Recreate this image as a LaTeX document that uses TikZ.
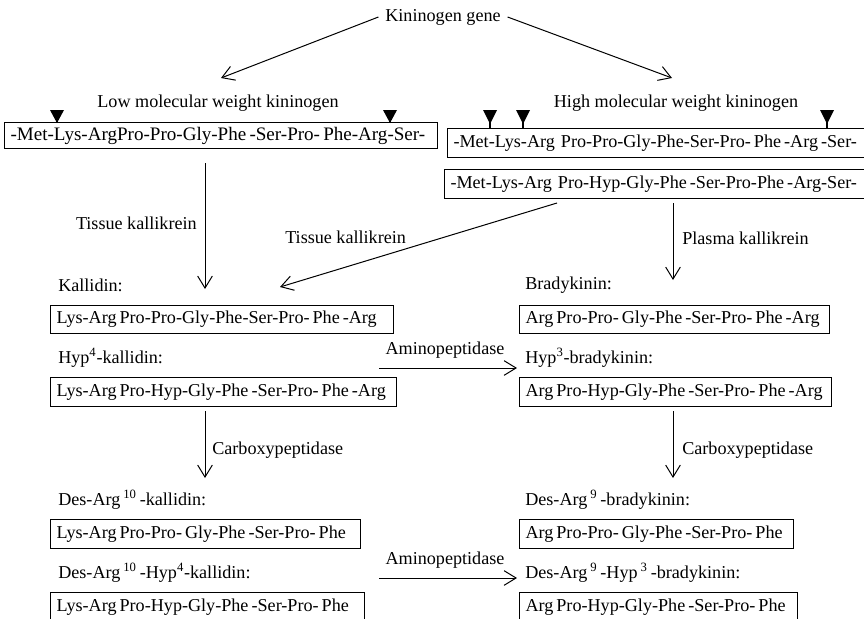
\documentclass[tikz,border=0pt]{standalone}
\usepackage{fontspec}
\setmainfont{Liberation Serif}
\usetikzlibrary{arrows.meta}
\begin{document}
\begin{tikzpicture}[x=0.75pt,y=-0.75pt,
  font=\fontsize{13.6pt}{16pt}\selectfont,
  lbl/.style={anchor=west, inner sep=0pt},
  ctr/.style={inner sep=0pt},
  seq/.style={draw, line width=0.75pt, anchor=north west, inner xsep=4.5pt, inner ysep=0pt, text width=#1, align=left},
  arr/.style={line width=0.75pt, -{Straight Barb[length=9pt,width=11pt,line width=0.75pt]}}
]
\clip (0,0) rectangle (864,618);

% top
\node[ctr, inner xsep=5pt] (gene) at (443,17) {Kininogen gene};
\node[ctr] (lmwt) at (218,103) {Low molecular weight kininogen};
\node[ctr] (hmwt) at (676,103) {High molecular weight kininogen};
\coordinate (ga) at (221,78);
\coordinate (gb) at (672,78);
\draw[arr] (gene.west) -- (ga);
\draw[arr] (gene.east) -- (gb);

% precursor boxes
\node[seq=315.75pt, minimum height=19.5pt, font=\fontsize{14.3pt}{16pt}\selectfont] (lmw) at (4,122) {\mbox{-Met-Lys-ArgPro-Pro-Gly-Phe\,-Ser-Pro-\,Phe-Arg-Ser-}};
\node[seq=304.5pt, minimum height=21.75pt] (hmw1) at (447,128) {\mbox{-Met-Lys-Arg Pro-Pro-Gly-Phe-Ser-Pro-\,Phe\,-Arg\,-Ser-}};
\node[seq=306.75pt, minimum height=21.75pt] (hmw2) at (444,169) {\mbox{-Met-Lys-Arg Pro-Hyp-Gly-Phe\,-Ser-Pro-Phe\,-Arg-Ser-}};

% cleavage markers
\foreach \xx in {57,390}{
  \fill (\xx-7,110) -- (\xx+7,110) -- (\xx,123) -- cycle;
  \draw[line width=1.5pt] (\xx,118) -- (\xx,122);
}
\foreach \xx in {490,523,827}{
  \fill (\xx-7,110) -- (\xx+7,110) -- (\xx,124) -- cycle;
  \draw[line width=1.5pt] (\xx,118) -- (\xx,128);
}

% kallikrein arrows
\coordinate (v1a) at (205,163);
\coordinate (v1b) at (205,289);
\coordinate (d1a) at (557,203);
\coordinate (d1b) at (280,287);
\coordinate (v2a) at (673,203);
\coordinate (v2b) at (673,280);
\draw[arr] (v1a) -- (v1b);
\draw[arr] (d1a) -- (d1b);
\draw[arr] (v2a) -- (v2b);
\node[ctr, anchor=east] (tk1) at (197,223) {Tissue kallikrein};
\node[lbl] (tk2) at (285,237) {Tissue kallikrein};
\node[lbl] (pk) at (682,238) {Plasma kallikrein};

% kinins
\node[lbl] (kal) at (58,285) {Kallidin:};
\node[seq=248.25pt, minimum height=21pt] (k1) at (50,305) {\mbox{Lys-Arg\,Pro-Pro-Gly-Phe-Ser-Pro-\,Phe\,-Arg}};
\node[lbl] (hkal) at (58,358) {Hyp\textsuperscript{4}-kallidin:};
\node[seq=250.5pt, minimum height=21.75pt] (k2) at (50,377) {\mbox{Lys-Arg\,Pro-Hyp-Gly-Phe\,-Ser-Pro-\,Phe\,-Arg}};

\node[lbl] (bk) at (525,285) {Bradykinin:};
\node[seq=223.5pt, minimum height=21pt] (b1) at (519,305) {\mbox{Arg\,Pro-Pro-\,Gly-Phe\,-Ser-Pro-\,Phe\,-Arg}};
\node[lbl] (hbk) at (525,358) {Hyp\textsuperscript{3}-bradykinin:};
\node[seq=225pt, minimum height=21.75pt] (b2) at (519,377) {\mbox{Arg\,Pro-Hyp-Gly-Phe\,-Ser-Pro-\,Phe\,-Arg}};

\node[ctr] (ap1) at (445,350) {Aminopeptidase};
\coordinate (h1a) at (379,368);
\coordinate (h1b) at (517,368);
\draw[arr] (h1a) -- (h1b);

% carboxypeptidase
\coordinate (c1a) at (205,411);
\coordinate (c1b) at (205,478);
\coordinate (c2a) at (673,411);
\coordinate (c2b) at (673,478);
\draw[arr] (c1a) -- (c1b);
\draw[arr] (c2a) -- (c2b);
\node[lbl] (cp1) at (212,450) {Carboxypeptidase};
\node[lbl] (cp2) at (682,450) {Carboxypeptidase};

% des-Arg
\node[lbl] (dk1) at (58,500) {Des-Arg\,\textsuperscript{10}\,-kallidin:};
\node[seq=223.5pt, minimum height=21.75pt] (d1) at (50,519) {\mbox{Lys-Arg\,Pro-Pro-\,Gly-Phe\,-Ser-Pro-\,Phe}};
\node[lbl] (dk2) at (58,573) {Des-Arg\,\textsuperscript{10}\,-Hyp\textsuperscript{4}-kallidin:};
\node[seq=226.5pt, minimum height=21.75pt] (d2) at (50,592) {\mbox{Lys-Arg\,Pro-Hyp-Gly-Phe\,-Ser-Pro-\,Phe}};

\node[lbl] (db1) at (525,500) {Des-Arg\,\textsuperscript{9}\,-bradykinin:};
\node[seq=196.5pt, minimum height=21.75pt] (d3) at (519,519) {\mbox{Arg\,Pro-Pro-\,Gly-Phe\,-Ser-Pro-\,Phe}};
\node[lbl] (db2) at (525,573) {Des-Arg\,\textsuperscript{9}\,-Hyp\,\textsuperscript{3}\,-bradykinin:};
\node[seq=199.5pt, minimum height=21.75pt] (d4) at (519,592) {\mbox{Arg\,Pro-Hyp-Gly-Phe\,-Ser-Pro-\,Phe}};

\node[ctr] (ap2) at (445,560) {Aminopeptidase};
\coordinate (h2a) at (379,578);
\coordinate (h2b) at (517,578);
\draw[arr] (h2a) -- (h2b);
\end{tikzpicture}
\end{document}
